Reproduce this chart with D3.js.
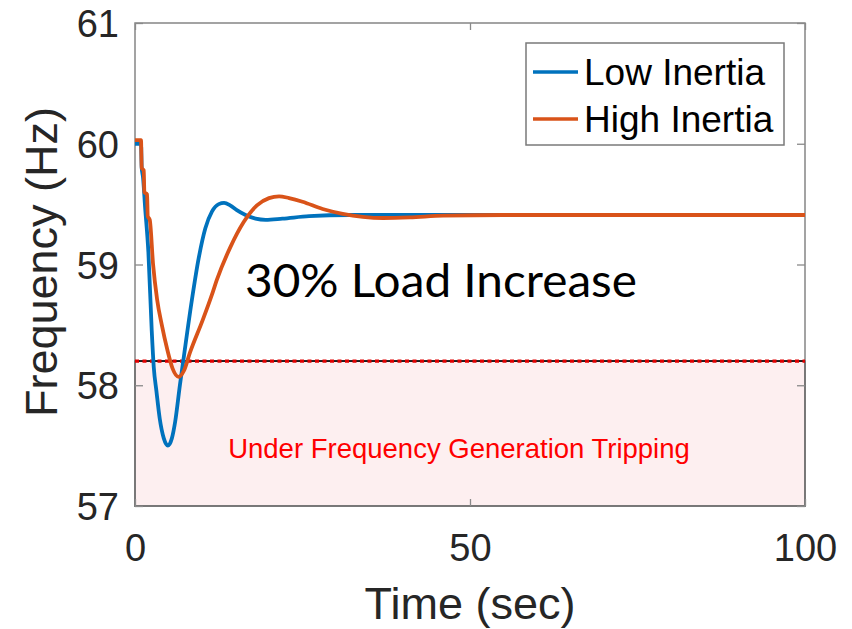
<!DOCTYPE html>
<html>
<head>
<meta charset="utf-8">
<script src="https://cdn.jsdelivr.net/npm/d3@7"></script>
<style>
  body { margin: 0; background: #fff; }
  svg { display: block; }
</style>
</head>
<body>
<svg id="chart" width="852" height="629"></svg>
<script>
// plot box, in pixels
var boxLeft = 135, boxRight = 805, boxTop = 23, boxBottom = 506;

// series (time in sec, frequency in Hz)
var lowTime  = [0, 0.9, 1.0, 1.2, 1.5, 2.0, 2.5, 2.8, 3.2, 3.7, 4.3, 4.9, 5.5, 6.0, 6.7, 7.2, 8.5, 9.5, 10.5, 11.5, 12.5, 13.3, 14.2, 15.2, 16.5, 18, 19.5, 22, 26, 32, 100];
var lowFreq  = [60, 60, 59.8, 59.72, 59.48, 59.1, 58.45, 58.15, 57.95, 57.72, 57.56, 57.5, 57.56, 57.7, 58.0, 58.2, 58.71, 59.05, 59.3, 59.44, 59.5, 59.51, 59.49, 59.45, 59.41, 59.38, 59.37, 59.38, 59.4, 59.41, 59.41];

var highTime = [0, 0.9, 1.0, 1.3, 1.4, 1.8, 1.9, 2.2, 2.7, 3.3, 4.0, 4.8, 5.6, 6.5, 7.3, 8.2, 10.1, 11.6, 12.2, 14.2, 16.2, 18.2, 20, 21.5, 23, 25, 28, 31, 34, 37, 41, 46, 55, 100];
var highFreq = [60.03, 60.03, 59.8, 59.78, 59.6, 59.58, 59.4, 59.37, 59.0, 58.71, 58.5, 58.3, 58.14, 58.07, 58.12, 58.27, 58.54, 58.77, 58.87, 59.14, 59.35, 59.49, 59.55, 59.565, 59.55, 59.52, 59.46, 59.42, 59.395, 59.385, 59.39, 59.405, 59.41, 59.41];

var seriesNames  = ["Low Inertia", "High Inertia"];
var seriesColors = ["#0072BD", "#D95319"];

var xTicks = [0, 50, 100];
var yTicks = [57, 58, 59, 60, 61];

var tripLevel = 58.2;  // under frequency tripping threshold

var svg = d3.select("#chart");

var x = d3.scaleLinear().domain([0, 100]).range([boxLeft, boxRight]);
var y = d3.scaleLinear().domain([57, 61]).range([boxBottom, boxTop]);

var tickFont = "'Liberation Sans', Arial, Helvetica, sans-serif";

// shaded tripping region
svg.append("rect")
    .attr("x", x(0))
    .attr("y", y(tripLevel))
    .attr("width", x(100) - x(0))
    .attr("height", y(57) - y(tripLevel))
    .style("fill", "#fdeff0")
    .style("stroke", "#2a2a2a")
    .style("stroke-width", 1.6);

svg.append("text")
    .attr("x", (x(0) + x(100)) / 2 - 11)
    .attr("y", 458)
    .style("text-anchor", "middle")
    .style("font-family", tickFont)
    .style("font-size", "27.5px")
    .style("fill", "#ff0000")
    .text("Under Frequency Generation Tripping");

// plot frame
svg.append("rect")
    .attr("x", boxLeft)
    .attr("y", boxTop)
    .attr("width", boxRight - boxLeft)
    .attr("height", boxBottom - boxTop)
    .style("fill", "none")
    .style("stroke", "#858585")
    .style("stroke-width", 1.5);

// axes: ticks inward, labels outside
var yAxis = d3.axisLeft(y).tickValues(yTicks).tickFormat(d3.format("d"))
    .tickSizeInner(-8).tickSizeOuter(0).tickPadding(16);
var xAxis = d3.axisBottom(x).tickValues(xTicks).tickFormat(d3.format("d"))
    .tickSizeInner(-7).tickSizeOuter(0).tickPadding(28);

var gy = svg.append("g").attr("transform", "translate(" + boxLeft + ",0)").call(yAxis);
var gx = svg.append("g").attr("transform", "translate(0," + boxBottom + ")").call(xAxis);
[gy, gx].forEach(function(g) {
    g.select(".domain").remove();
    g.selectAll("line").style("stroke", "#8a8a8a").style("stroke-width", 1.3);
    g.selectAll("text")
        .style("font-family", tickFont)
        .style("font-size", "38px")
        .style("fill", "#262626");
});
gy.selectAll("text").attr("dy", "0.36em");
gx.selectAll("text").attr("dy", "0.71em");

// mirrored ticks on the right and top
svg.append("g").attr("transform", "translate(" + boxRight + ",0)")
    .call(d3.axisRight(y).tickValues(yTicks).tickSizeInner(-8).tickSizeOuter(0).tickFormat(""))
    .call(g => g.select(".domain").remove())
    .selectAll("line").style("stroke", "#8a8a8a").style("stroke-width", 1.3);
svg.append("g").attr("transform", "translate(0," + boxTop + ")")
    .call(d3.axisTop(x).tickValues(xTicks).tickSizeInner(-7).tickSizeOuter(0).tickFormat(""))
    .call(g => g.select(".domain").remove())
    .selectAll("line").style("stroke", "#8a8a8a").style("stroke-width", 1.3);

// threshold line: black solid under red dots
svg.append("line")
    .attr("x1", x(0)).attr("x2", x(100))
    .attr("y1", y(tripLevel)).attr("y2", y(tripLevel))
    .style("stroke", "#111")
    .style("stroke-width", 1.5);
svg.append("line")
    .attr("x1", x(0)).attr("x2", x(100))
    .attr("y1", y(tripLevel)).attr("y2", y(tripLevel))
    .style("stroke", "#e00000")
    .style("stroke-width", 3.2)
    .style("stroke-dasharray", "4,3.5");

// curves
var line = d3.line()
    .x(d => x(d[0]))
    .y(d => y(d[1]))
    .curve(d3.curveMonotoneX);

var lowData = d3.zip(lowTime, lowFreq);
var highData = d3.zip(highTime, highFreq);

svg.append("path")
    .datum(lowData)
    .attr("d", line)
    .style("fill", "none")
    .style("stroke", seriesColors[0])
    .style("stroke-width", 3.8)
    .style("stroke-linejoin", "round");

svg.append("path")
    .datum(highData)
    .attr("d", line)
    .style("fill", "none")
    .style("stroke", seriesColors[1])
    .style("stroke-width", 3.8)
    .style("stroke-linejoin", "round");

// annotation
svg.append("text")
    .attr("x", 245)
    .attr("y", 297)
    .attr("textLength", 392)
    .attr("lengthAdjust", "spacingAndGlyphs")
    .style("font-family", "Lato, 'Open Sans', sans-serif")
    .style("font-size", "47px")
    .style("fill", "#000")
    .text("30% Load Increase");

// legend
var legend = svg.append("g");
legend.append("rect")
    .attr("x", 526).attr("y", 43)
    .attr("width", 258).attr("height", 102)
    .style("fill", "#fff")
    .style("stroke", "#7a7a7a")
    .style("stroke-width", 1.5);

seriesNames.forEach(function(name, i) {
    let cy = 72 + i * 47;
    legend.append("line")
        .attr("x1", 533).attr("x2", 578)
        .attr("y1", cy).attr("y2", cy)
        .style("stroke", seriesColors[i])
        .style("stroke-width", 3.5);
    legend.append("text")
        .attr("x", 584)
        .attr("y", cy + 13)
        .style("font-family", tickFont)
        .style("font-size", "37px")
        .style("fill", "#000")
        .text(name);
});

// axis labels
svg.append("text")
    .attr("x", (boxLeft + boxRight) / 2)
    .attr("y", 619)
    .style("text-anchor", "middle")
    .style("font-family", tickFont)
    .style("font-size", "45px")
    .style("fill", "#262626")
    .text("Time (sec)");

svg.append("text")
    .attr("transform", "translate(57," + 262 + ") rotate(-90)")
    .style("text-anchor", "middle")
    .style("font-family", tickFont)
    .style("font-size", "45px")
    .style("fill", "#262626")
    .text("Frequency (Hz)");
</script>
</body>
</html>
